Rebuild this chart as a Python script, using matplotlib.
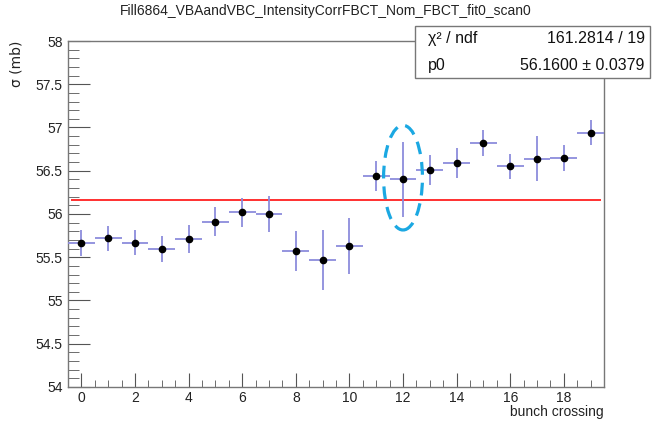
# sigma per bunch crossing with constant fit (p0) and highlighted outlier
import numpy as np
import matplotlib
matplotlib.use("Agg")
import matplotlib.pyplot as plt
from matplotlib.patches import Ellipse, Rectangle
from matplotlib.ticker import MultipleLocator

plt.rcParams['font.family'] = ['Liberation Sans', 'DejaVu Sans']

# bunch crossing index and fitted cross section (mb)
bx = np.arange(20)
sigma = [55.66, 55.72, 55.67, 55.60, 55.71, 55.91, 56.02, 56.00, 55.57, 55.47,
         55.63, 56.44, 56.40, 56.51, 56.59, 56.82, 56.55, 56.64, 56.65, 56.94]
sigma_err = [0.15, 0.145, 0.14, 0.15, 0.16, 0.17, 0.17, 0.21, 0.23, 0.35,
             0.32, 0.17, 0.43, 0.17, 0.17, 0.15, 0.14, 0.26, 0.15, 0.145]

p0 = 56.16
p0_err = 0.0379
chi2 = 161.2814
ndf = 19

title = "Fill6864_VBAandVBC_IntensityCorrFBCT_Nom_FBCT_fit0_scan0"

fig = plt.figure(figsize=(6.52, 4.21), dpi=100)
ax = fig.add_axes([0.1043, 0.0808, 0.8221, 0.8218])

ax.errorbar(bx, sigma, yerr=sigma_err, xerr=0.5, fmt='o', color='black',
            ms=4.5, ecolor='#8c8cdc', elinewidth=1.3, capsize=0, zorder=3)
ax.hlines(p0, -0.4, 19.4, color='#ff2020', lw=1.3, zorder=2)

# dashed ring around the bc 12 point
ax.add_patch(Ellipse((12, 56.42), 1.45, 1.21, fill=False, ls=(0, (4, 2.5)),
                     lw=2.3, edgecolor='#1ba8e2', zorder=4))

ax.set_xlim(-0.5, 19.5)
ax.set_ylim(54, 58)
ax.xaxis.set_major_locator(MultipleLocator(2))
ax.xaxis.set_minor_locator(MultipleLocator(0.5))
ax.yaxis.set_major_locator(MultipleLocator(0.5))
ax.yaxis.set_minor_locator(MultipleLocator(0.1))
ax.tick_params(axis='both', which='both', direction='in', color='#555555',
               labelsize=10, labelcolor='#222222')
ax.tick_params(axis='x', which='major', length=10, pad=3)
ax.tick_params(axis='x', which='minor', length=5)
ax.tick_params(axis='y', which='major', length=16, pad=4)
ax.tick_params(axis='y', which='minor', length=8)
ax.set_yticklabels([f"{v:g}" for v in ax.get_yticks()])
for s in ax.spines.values():
    s.set_color('#777777')
    s.set_linewidth(1.0)

fig.text(0.5, 0.974, title, ha='center', va='center', fontsize=10, color='#222222')
fig.text(0.926, 0.022, "bunch crossing", ha='right', va='center', fontsize=10,
         color='#222222')
fig.text(0.026, 0.9026, "σ (mb)", ha='center', va='top', rotation=90, fontsize=10,
         color='#222222', family='DejaVu Sans')

# fit statistics box
box = Rectangle((0.6365, 0.8147), 0.3605, 0.1235, transform=fig.transFigure,
                facecolor='white', edgecolor='#777777', lw=1.0, zorder=5)
fig.patches.append(box)
fig.text(0.656, 0.9097, "χ² / ndf", ha='left', va='center', fontsize=11.5,
         color='#111111', zorder=6)
fig.text(0.989, 0.9097, f"{chi2:.4f} / {ndf}", ha='right', va='center',
         fontsize=11.5, color='#111111', zorder=6)
fig.text(0.656, 0.8456, "p0", ha='left', va='center', fontsize=11.5,
         color='#111111', zorder=6)
fig.text(0.989, 0.8456, f"{p0:.4f} ± {p0_err:.4f}", ha='right', va='center',
         fontsize=11.5, color='#111111', zorder=6)

fig.savefig("out.png", dpi=100)
